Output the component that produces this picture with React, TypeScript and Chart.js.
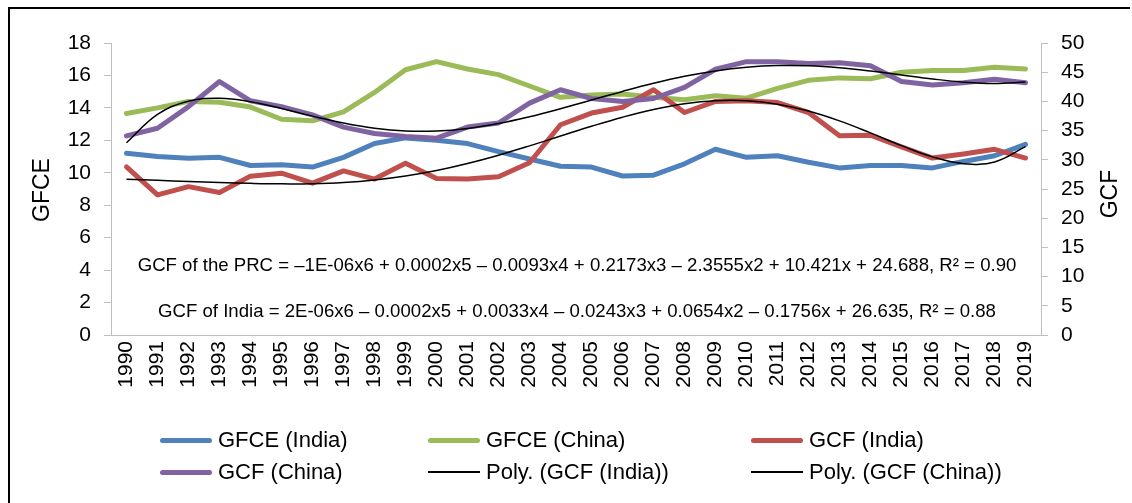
import React, { useEffect, useRef } from 'react';
import { Chart, registerables } from 'chart.js';

Chart.register(...registerables);

const FONT = '"Liberation Sans", Arial, sans-serif';

const years = ['1990', '1991', '1992', '1993', '1994', '1995', '1996', '1997', '1998', '1999', '2000', '2001', '2002', '2003', '2004', '2005', '2006', '2007', '2008', '2009', '2010', '2011', '2012', '2013', '2014', '2015', '2016', '2017', '2018', '2019'];

const gfceIndia = [11.2, 11.0, 10.9, 10.95, 10.45, 10.5, 10.35, 10.95, 11.8, 12.15, 12.0, 11.8, 11.3, 10.85, 10.4, 10.35, 9.8, 9.85, 10.55, 11.45, 10.95, 11.05, 10.65, 10.3, 10.45, 10.45, 10.3, 10.7, 11.05, 11.75];
const gfceChina = [13.65, 14.0, 14.4, 14.35, 14.05, 13.3, 13.2, 13.75, 14.95, 16.35, 16.85, 16.4, 16.05, 15.35, 14.65, 14.8, 14.85, 14.65, 14.5, 14.75, 14.6, 15.2, 15.7, 15.85, 15.8, 16.2, 16.3, 16.3, 16.5, 16.4];
const gcfIndia = [28.8, 24.0, 25.4, 24.4, 27.2, 27.7, 26.0, 28.1, 26.7, 29.4, 26.8, 26.7, 27.1, 29.5, 36.0, 38.0, 39.0, 42.0, 38.1, 40.0, 40.1, 39.8, 38.1, 34.1, 34.2, 32.2, 30.3, 31.0, 31.8, 30.3];
const gcfChina = [34.1, 35.4, 39.1, 43.4, 40.1, 39.1, 37.7, 35.6, 34.5, 34.0, 33.7, 35.6, 36.3, 39.7, 42.0, 40.5, 40.0, 40.5, 42.4, 45.5, 46.8, 46.8, 46.5, 46.6, 46.1, 43.4, 42.8, 43.2, 43.8, 43.2];

const leftTitle = 'GFCE';
const rightTitle = 'GCF';
const eqChina = 'GCF of the PRC = \u20131E-06x6 + 0.0002x5 \u2013 0.0093x4 + 0.2173x3 \u2013 2.3555x2 + 10.421x + 24.688, R\u00b2 = 0.90';
const eqIndia = 'GCF of India = 2E-06x6 \u2013 0.0002x5 + 0.0033x4 \u2013 0.0243x3 + 0.0654x2 \u2013 0.1756x + 26.635, R\u00b2 = 0.88';

const colors = {
  gfceIndia: '#4F81BD',
  gfceChina: '#9BBB59',
  gcfIndia: '#C0504D',
  gcfChina: '#8064A2',
  poly: '#000000',
};

// Least-squares polynomial trendline (as Excel's "Poly." trendline), degree 6
function polyFit(ys: number[], deg: number): number[] {
  const n = ys.length;
  const c = (n - 1) / 2;
  const ts = ys.map((_, i) => (i - c) / c);
  const m = deg + 1;
  const A: number[][] = [];
  for (let j = 0; j < m; j++) {
    const row: number[] = [];
    for (let k = 0; k < m; k++) {
      let s = 0;
      for (let i = 0; i < n; i++) s += Math.pow(ts[i], j + k);
      row.push(s);
    }
    let b = 0;
    for (let i = 0; i < n; i++) b += ys[i] * Math.pow(ts[i], j);
    row.push(b);
    A.push(row);
  }
  for (let col = 0; col < m; col++) {
    let piv = col;
    for (let r = col + 1; r < m; r++) if (Math.abs(A[r][col]) > Math.abs(A[piv][col])) piv = r;
    const tmp = A[col]; A[col] = A[piv]; A[piv] = tmp;
    for (let r = 0; r < m; r++) {
      if (r === col) continue;
      const f = A[r][col] / A[col][col];
      for (let k = col; k <= m; k++) A[r][k] -= f * A[col][k];
    }
  }
  const coef = A.map((row, i) => row[m] / row[i]);
  return ts.map((t) => coef.reduce((acc, a, k) => acc + a * Math.pow(t, k), 0));
}

const textPlugin = {
  id: 'customText',
  afterDraw(chart: any) {
    const ctx = chart.ctx;
    ctx.save();
    ctx.fillStyle = '#000';
    ctx.textAlign = 'center';
    ctx.textBaseline = 'middle';
    ctx.font = `23px ${FONT}`;
    ctx.save();
    ctx.translate(43, 190);
    ctx.rotate(-Math.PI / 2);
    ctx.fillText(leftTitle, 0, 0);
    ctx.restore();
    ctx.save();
    ctx.translate(1111, 194);
    ctx.rotate(-Math.PI / 2);
    ctx.fillText(rightTitle, 0, 0);
    ctx.restore();
    ctx.font = `18.6px ${FONT}`;
    ctx.fillText(eqChina, 577, 266);
    ctx.fillText(eqIndia, 577, 312);
    ctx.restore();
  },
};

const legendItems = [
  { label: 'GFCE (India)', color: colors.gfceIndia, thick: 5, x: 160, row: 0 },
  { label: 'GFCE (China)', color: colors.gfceChina, thick: 5, x: 428, row: 0 },
  { label: 'GCF (India)', color: colors.gcfIndia, thick: 5, x: 751, row: 0 },
  { label: 'GCF (China)', color: colors.gcfChina, thick: 5, x: 160, row: 1 },
  { label: 'Poly. (GCF (India))', color: colors.poly, thick: 2, x: 428, row: 1 },
  { label: 'Poly. (GCF (China))', color: colors.poly, thick: 2, x: 751, row: 1 },
];

export default function App() {
  const ref = useRef<HTMLCanvasElement | null>(null);

  useEffect(() => {
    if (!ref.current) return;
    const tickFont = { size: 21, family: FONT };
    const polyIndia = polyFit(gcfIndia, 6);
    const polyChina = polyFit(gcfChina, 6);
    const lineBase = {
      borderWidth: 5,
      pointRadius: 0,
      borderJoinStyle: 'round' as const,
      borderCapStyle: 'round' as const,
      tension: 0,
    };
    const chart = new Chart(ref.current, {
      type: 'line',
      data: {
        labels: years,
        datasets: [
          { ...lineBase, label: 'GFCE (India)', data: gfceIndia, borderColor: colors.gfceIndia, backgroundColor: colors.gfceIndia, yAxisID: 'y', order: 6 },
          { ...lineBase, label: 'GFCE (China)', data: gfceChina, borderColor: colors.gfceChina, backgroundColor: colors.gfceChina, yAxisID: 'y', order: 5 },
          { ...lineBase, label: 'GCF (India)', data: gcfIndia, borderColor: colors.gcfIndia, backgroundColor: colors.gcfIndia, yAxisID: 'y1', order: 4 },
          { ...lineBase, label: 'GCF (China)', data: gcfChina, borderColor: colors.gcfChina, backgroundColor: colors.gcfChina, yAxisID: 'y1', order: 3 },
          { label: 'Poly. (GCF (India))', data: polyIndia, borderColor: colors.poly, borderWidth: 1.5, pointRadius: 0, tension: 0.4, yAxisID: 'y1', order: 2 },
          { label: 'Poly. (GCF (China))', data: polyChina, borderColor: colors.poly, borderWidth: 1.5, pointRadius: 0, tension: 0.4, yAxisID: 'y1', order: 1 },
        ],
      },
      options: {
        animation: false,
        responsive: false,
        maintainAspectRatio: false,
        layout: { padding: { top: 43, left: 0, right: 0, bottom: 0 } },
        plugins: { legend: { display: false }, tooltip: { enabled: false } },
        scales: {
          x: {
            type: 'category',
            offset: true,
            grid: { display: false, drawTicks: false },
            border: { display: true, color: '#bfbfbf', width: 1 },
            ticks: { autoSkip: false, minRotation: 90, maxRotation: 90, padding: 6, color: '#000', font: tickFont },
            afterFit: (s: any) => { s.height = 168; },
          },
          y: {
            position: 'left',
            min: 0,
            max: 18,
            ticks: { stepSize: 2, padding: 13, color: '#000', font: tickFont },
            grid: { drawOnChartArea: false, drawTicks: true, tickLength: 7, color: '#bfbfbf' },
            border: { display: true, color: '#bfbfbf', width: 1 },
            afterFit: (s: any) => { s.width = 111; },
          },
          y1: {
            position: 'right',
            min: 0,
            max: 50,
            ticks: { stepSize: 5, padding: 13, color: '#000', font: tickFont },
            grid: { drawOnChartArea: false, drawTicks: true, tickLength: 7, color: '#bfbfbf' },
            border: { display: true, color: '#bfbfbf', width: 1 },
            afterFit: (s: any) => { s.width = 91; },
          },
        },
      },
      plugins: [textPlugin],
    });
    return () => chart.destroy();
  }, []);

  return (
    <div style={{ position: 'absolute', left: 0, top: 0, width: 1132, height: 503, background: '#fff', overflow: 'hidden' }}>
      <canvas ref={ref} width={1132} height={503} style={{ position: 'absolute', left: 0, top: 0, width: 1132, height: 503 }} />
      <div style={{ position: 'absolute', left: 8, top: 7, width: 1122, height: 496, borderTop: '2px solid #000', borderLeft: '2px solid #000', boxSizing: 'border-box', pointerEvents: 'none' }} />
      {legendItems.map((it) => (
        <div key={it.label} style={{ position: 'absolute', left: it.x, top: (it.row === 0 ? 440 : 472) - 13, height: 26, display: 'flex', alignItems: 'center', fontFamily: FONT, fontSize: 22, color: '#000', whiteSpace: 'nowrap' }}>
          <div style={{ width: 52, height: it.thick, background: it.color, borderRadius: it.thick > 2 ? 3 : 0, marginRight: 6 }} />
          <span>{it.label}</span>
        </div>
      ))}
    </div>
  );
}
